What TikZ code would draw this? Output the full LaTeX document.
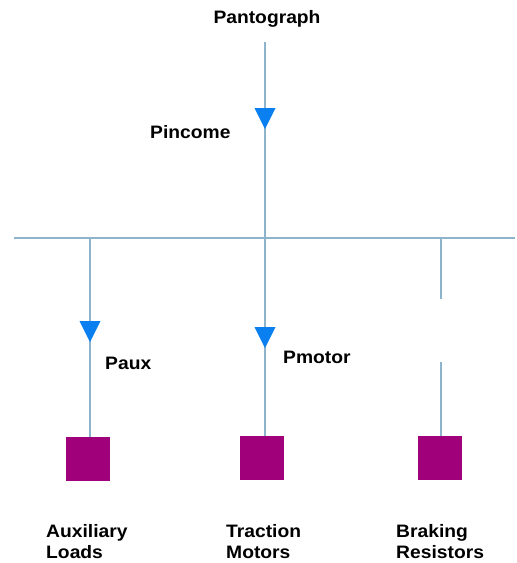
\documentclass[tikz,border=0pt]{standalone}
\usepackage{fontspec}
\setmainfont{Liberation Sans}
\definecolor{wire}{RGB}{140,180,204}
\definecolor{flow}{RGB}{10,128,240}
\definecolor{load}{RGB}{160,0,122}
\begin{document}
\begin{tikzpicture}[x=1pt,y=-1pt,
  wireline/.style={draw=wire,line width=1.5pt},
  loadbox/.style={fill=load,draw=none,minimum width=44pt,minimum height=44pt,inner sep=0pt},
  lbl/.style={font=\fontsize{18}{21}\selectfont\bfseries,inner sep=0pt,xscale=1.07,align=left},
  flowtip/.style={fill=flow}]
\useasboundingbox (0,0) rectangle (517,563);
% source and bus
\node[lbl,anchor=center] (pan) at (267,19) {Pantograph};
\coordinate (panfoot) at (265,42);
\coordinate (busL) at (14,238);
\coordinate (busR) at (515,238);
\coordinate (tapA) at (90,238);
\coordinate (tapM) at (265,238);
\coordinate (tapB) at (441,238);
\draw[wireline] (busL) -- (busR);
\draw[wireline] (panfoot) -- (tapM);
% loads
\node[loadbox] (aux) at (88,459) {};
\node[loadbox] (mot) at (262,458) {};
\node[loadbox] (brk) at (439.5,458) {};
\draw[wireline] (tapA) -- (tapA |- aux.north);
\draw[wireline] (tapM) -- (tapM |- mot.north);
\coordinate (brkgapTop) at (441,299);
\coordinate (brkgapBot) at (441,362);
\draw[wireline] (tapB) -- (brkgapTop);
\draw[wireline] (brkgapBot) -- (tapB |- brk.north);
% power-flow arrowheads
\fill[flowtip] (254.5,108) -- (275.5,108) -- (265,129) -- cycle;
\fill[flowtip] (79.5,321) -- (100.5,321) -- (90,342) -- cycle;
\fill[flowtip] (254.5,327) -- (275.5,327) -- (265,348) -- cycle;
% power labels
\node[lbl,anchor=west] (pin) at (150,132) {Pincome};
\node[lbl,anchor=west] (paux) at (105,363) {Paux};
\node[lbl,anchor=west] (pmot) at (283,357) {Pmotor};
% load names
\node[lbl,anchor=north west] (auxname) at (46,524) {Auxiliary\\Loads};
\node[lbl,anchor=north west] (motname) at (226,524) {Traction\\Motors};
\node[lbl,anchor=north west] (brkname) at (396,524) {Braking\\Resistors};
\end{tikzpicture}
\end{document}
